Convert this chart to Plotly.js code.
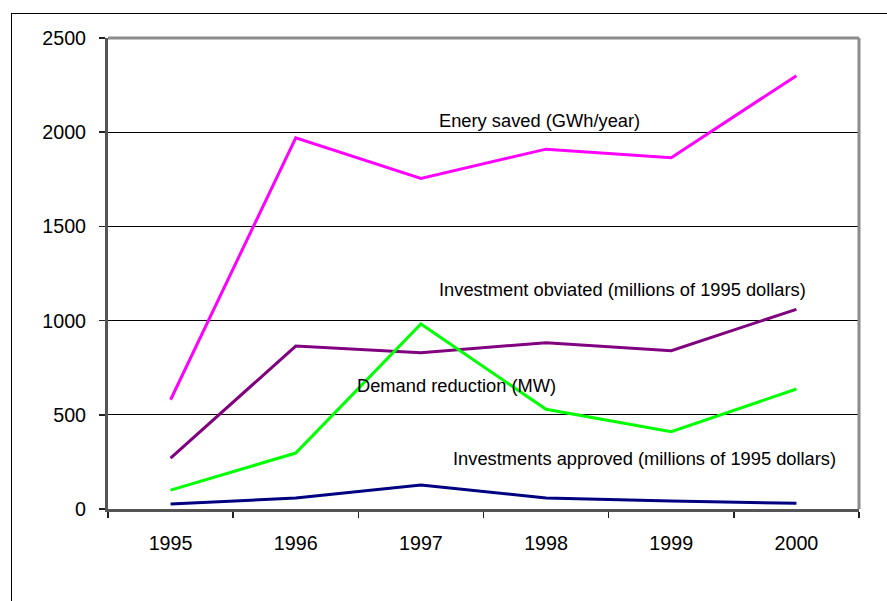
<!DOCTYPE html>
<html>
<head>
<meta charset="utf-8">
<script src="https://cdn.plot.ly/plotly-3.0.1.min.js"></script>
<style>
  html, body { margin: 0; padding: 0; background: #ffffff; }
  #wrap { position: relative; width: 887px; height: 601px; overflow: hidden; }
  #frame { position: absolute; left: 11px; top: 13px; width: 900px; height: 600px;
           border-left: 1px solid #000; border-top: 1px solid #000; pointer-events: none; z-index: 5; }
  #chart { position: absolute; left: 0; top: 0; width: 887px; height: 601px; }
</style>
</head>
<body>
<div id="wrap">
  <div id="chart"></div>
  <div id="frame"></div>
</div>
<script>
const years = ['1995', '1996', '1997', '1998', '1999', '2000'];
const energySaved = [580, 1970, 1755, 1910, 1865, 2300];
const investmentObviated = [270, 865, 830, 883, 840, 1060];
const demandReduction = [100, 297, 982, 529, 410, 637];
const investmentsApproved = [27, 58, 127, 58, 42, 30];
const yTicks = [0, 500, 1000, 1500, 2000, 2500];

const FONT = 'Liberation Sans, Arial, sans-serif';

function series(name, y, color) {
  return { type: 'scatter', mode: 'lines', name: name, x: years, y: y,
           line: { color: color, width: 3 }, hoverinfo: 'x+y' };
}

const data = [
  series('Enery saved (GWh/year)', energySaved, '#FF00FF'),
  series('Investment obviated (millions of 1995 dollars)', investmentObviated, '#800080'),
  series('Demand reduction (MW)', demandReduction, '#00FF00'),
  series('Investments approved (millions of 1995 dollars)', investmentsApproved, '#000080')
];

function label(text, x, y) {
  return { text: text, xref: 'paper', yref: 'paper', x: x, y: y, xanchor: 'left', yanchor: 'middle',
           showarrow: false, font: { family: FONT, size: 18.3, color: '#000' } };
}

const layout = {
  width: 887, height: 601,
  margin: { l: 108, r: 28, t: 38, b: 92, pad: 0 },
  paper_bgcolor: '#ffffff', plot_bgcolor: '#ffffff',
  showlegend: false,
  font: { family: FONT, size: 19.5, color: '#000' },
  xaxis: {
    type: 'category', range: [-0.5, 5.5], tickson: 'boundaries',
    ticks: 'outside', ticklen: 6, tickwidth: 1.5, tickcolor: '#222',
    showline: true, linecolor: '#555', linewidth: 3,
    showgrid: false, zeroline: false, ticklabelstandoff: 14,
    tickfont: { family: FONT, size: 19.7, color: '#000' }
  },
  yaxis: {
    range: [0, 2500], tickvals: yTicks, ticktext: yTicks.map(String),
    ticks: 'outside', ticklen: 6, tickwidth: 1.5, tickcolor: '#222',
    showline: true, linecolor: '#555', linewidth: 3,
    showgrid: true, gridcolor: '#000', gridwidth: 1, zeroline: false,
    ticklabelstandoff: 9,
    tickfont: { family: FONT, size: 19.7, color: '#000' }
  },
  shapes: [
    { type: 'line', xref: 'paper', yref: 'paper', x0: 0, x1: 1, y0: 1, y1: 1,
      line: { color: '#8c8c8c', width: 3 }, layer: 'above' },
    { type: 'line', xref: 'paper', yref: 'paper', x0: 1, x1: 1, y0: 0, y1: 1,
      line: { color: '#8c8c8c', width: 3 }, layer: 'above' }
  ],
  annotations: [
    label('Enery saved (GWh/year)', 0.4380, 0.8238),
    label('Investment obviated (millions of 1995 dollars)', 0.4380, 0.467),
    label('Demand reduction (MW)', 0.3288, 0.263),
    label('Investments approved (millions of 1995 dollars)', 0.4568, 0.108)
  ]
};

Plotly.newPlot('chart', data, layout, { displayModeBar: false, staticPlot: true });
</script>
</body>
</html>
